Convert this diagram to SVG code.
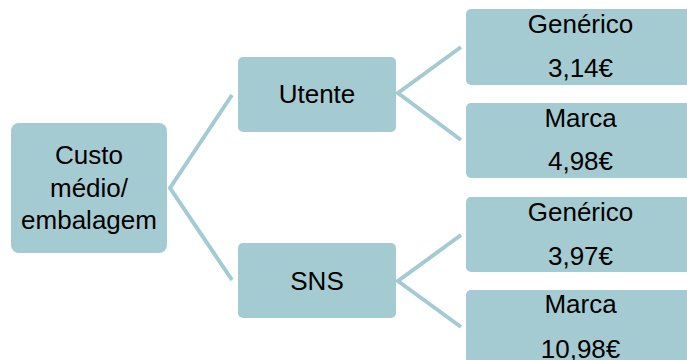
<svg xmlns="http://www.w3.org/2000/svg" width="687" height="360" viewBox="0 0 687 360">
<style>
.box{fill:#A5CBD2;}
.conn{fill:none;stroke:#A5CBD2;stroke-width:4;stroke-linejoin:miter;stroke-miterlimit:10;}
text{font-family:"Liberation Sans",Arial,sans-serif;font-size:26px;fill:#000;text-anchor:middle;}
</style>
<rect width="687" height="360" fill="#fff"/>
<g id="connectors">
<polyline class="conn" points="232,95 170,188 232,280"/>
<polyline class="conn" points="461,47 398,93 461,140"/>
<polyline class="conn" points="461,235 398,281 461,327"/>
</g>
<g id="root">
<rect class="box" x="11" y="123" width="156" height="130" rx="8"/>
<text x="89" y="164">Custo</text>
<text x="89" y="197">médio/</text>
<text x="89" y="229">embalagem</text>
</g>
<g id="utente">
<rect class="box" x="238" y="57" width="158" height="75" rx="5"/>
<text x="317" y="103">Utente</text>
</g>
<g id="sns">
<rect class="box" x="238" y="243" width="158" height="75" rx="5"/>
<text x="317" y="290">SNS</text>
</g>
<g id="utente-generico">
<rect class="box" x="466" y="9" width="229" height="76" rx="5"/>
<text x="580.5" y="33">Genérico</text>
<text x="580.5" y="77">3,14€</text>
</g>
<g id="utente-marca">
<rect class="box" x="466" y="103" width="229" height="75" rx="5"/>
<text x="580.5" y="127">Marca</text>
<text x="580.5" y="170">4,98€</text>
</g>
<g id="sns-generico">
<rect class="box" x="466" y="197" width="229" height="75" rx="5"/>
<text x="580.5" y="221">Genérico</text>
<text x="580.5" y="265">3,97€</text>
</g>
<g id="sns-marca">
<rect class="box" x="466" y="290" width="229" height="80" rx="5"/>
<text x="580.5" y="313">Marca</text>
<text x="580.5" y="358">10,98€</text>
</g>
</svg>
